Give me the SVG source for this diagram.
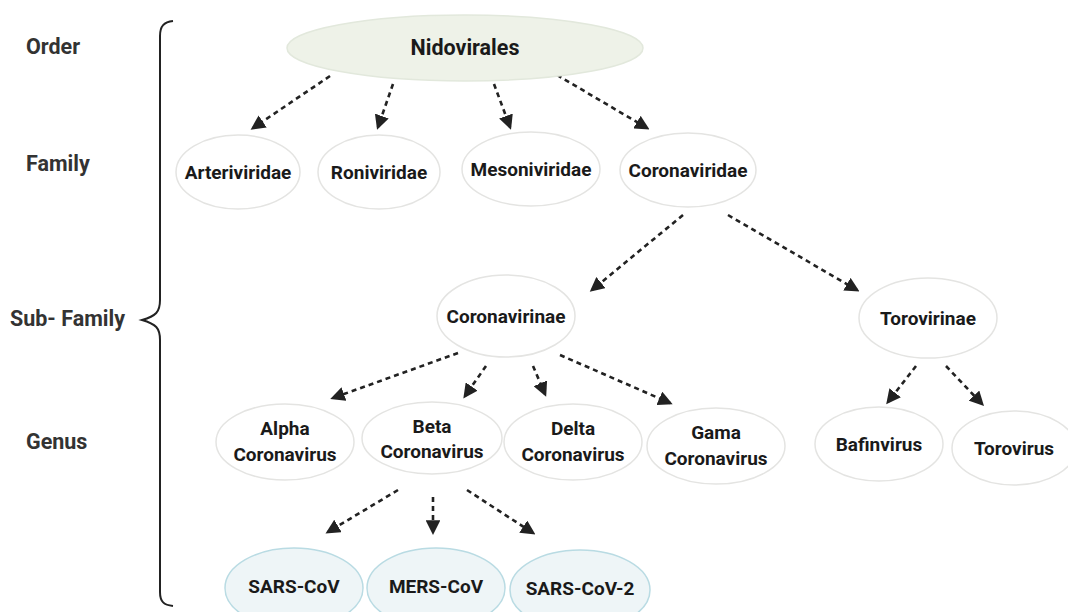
<svg xmlns="http://www.w3.org/2000/svg" width="1068" height="612" viewBox="0 0 1068 612">
<defs>
<style>
.n{fill:#fff;stroke:#e4e4e2;stroke-width:1.5}
.v{fill:#eef5f7;stroke:#b9dbe3;stroke-width:1.5}
.t{font-family:Roboto,"Liberation Sans",sans-serif;font-weight:700;font-size:19px;fill:#1a1a1a;text-anchor:middle}
.l{font-family:Roboto,"Liberation Sans",sans-serif;font-weight:700;font-size:21.5px;fill:#333}
.c{stroke:#222;stroke-width:2.6;stroke-dasharray:5 4;fill:none;marker-end:url(#ah)}
</style>
<marker id="ah" viewBox="0 0 10 10" refX="8" refY="5" markerWidth="5.6" markerHeight="5.6" markerUnits="strokeWidth" orient="auto">
<path d="M0,0 L10,5 L0,10 z" fill="#222"/>
</marker>
</defs>
<rect width="1068" height="612" fill="#fff"/>
<g id="labels">
<text class="l" x="26" y="54">Order</text>
<text class="l" x="26" y="171">Family</text>
<text class="l" x="10" y="326">Sub- Family</text>
<text class="l" x="26" y="449">Genus</text>
</g>
<path id="brace" d="M173,21 C164,22 160,26 160,36 L160,300 C160,312 156,316 142,320 C156,324 160,328 160,340 L160,592 C160,602 164,605 173,606" fill="none" stroke="#222" stroke-width="2"/>
<g id="connectors">
<path class="c" d="M330,76 L253,128"/>
<path class="c" d="M393,84 L378,127"/>
<path class="c" d="M494,84 L510,127"/>
<path class="c" d="M557,75 L647,128"/>
<path class="c" d="M683,215 L592,290"/>
<path class="c" d="M728,215 L857,290"/>
<path class="c" d="M458,353 L333,398"/>
<path class="c" d="M486,366 L465,396"/>
<path class="c" d="M533,366 L545,394"/>
<path class="c" d="M560,355 L670,403"/>
<path class="c" d="M916,366 L888,402"/>
<path class="c" d="M946,366 L982,404"/>
<path class="c" d="M398,490 L328,532"/>
<path class="c" d="M433,497 L433,532"/>
<path class="c" d="M467,490 L533,533"/>
</g>
<g id="nidovirales"><ellipse cx="465" cy="48" rx="178" ry="33" fill="#eef2e8" stroke="#e2e8dc" stroke-width="1.5"/><text class="t" x="465" y="55" style="font-size:21.5px">Nidovirales</text></g>
<g id="arteriviridae"><ellipse class="n" cx="238" cy="172" rx="62" ry="37"/><text class="t" x="238" y="179">Arteriviridae</text></g>
<g id="roniviridae"><ellipse class="n" cx="379" cy="172" rx="61" ry="37"/><text class="t" x="379" y="179">Roniviridae</text></g>
<g id="mesoniviridae"><ellipse class="n" cx="531" cy="169" rx="69" ry="37"/><text class="t" x="531" y="176">Mesoniviridae</text></g>
<g id="coronaviridae"><ellipse class="n" cx="688" cy="170" rx="68" ry="37"/><text class="t" x="688" y="177">Coronaviridae</text></g>
<g id="coronavirinae"><ellipse class="n" cx="506" cy="316" rx="69" ry="41"/><text class="t" x="506" y="323">Coronavirinae</text></g>
<g id="torovirinae"><ellipse class="n" cx="928" cy="318" rx="69" ry="40"/><text class="t" x="928" y="325">Torovirinae</text></g>
<g id="alpha"><ellipse class="n" cx="285" cy="442" rx="69" ry="38"/><text class="t" x="285" y="435">Alpha</text><text class="t" x="285" y="461">Coronavirus</text></g>
<g id="beta"><ellipse class="n" cx="432" cy="438" rx="70" ry="36"/><text class="t" x="432" y="433">Beta</text><text class="t" x="432" y="458">Coronavirus</text></g>
<g id="delta"><ellipse class="n" cx="573" cy="442" rx="69" ry="38"/><text class="t" x="573" y="435">Delta</text><text class="t" x="573" y="461">Coronavirus</text></g>
<g id="gama"><ellipse class="n" cx="716" cy="446" rx="69" ry="38"/><text class="t" x="716" y="439">Gama</text><text class="t" x="716" y="465">Coronavirus</text></g>
<g id="bafinvirus"><ellipse class="n" cx="879" cy="444" rx="64" ry="37"/><text class="t" x="879" y="451">Bafinvirus</text></g>
<g id="torovirus"><ellipse class="n" cx="1014" cy="448" rx="62" ry="37"/><text class="t" x="1014" y="455">Torovirus</text></g>
<g id="sars-cov"><ellipse class="v" cx="294" cy="588" rx="69" ry="40"/><text class="t" x="294" y="593">SARS-CoV</text></g>
<g id="mers-cov"><ellipse class="v" cx="436" cy="588" rx="69" ry="40"/><text class="t" x="436" y="593">MERS-CoV</text></g>
<g id="sars-cov-2"><ellipse class="v" cx="580" cy="590" rx="70" ry="40"/><text class="t" x="580" y="595">SARS-CoV-2</text></g>
</svg>
